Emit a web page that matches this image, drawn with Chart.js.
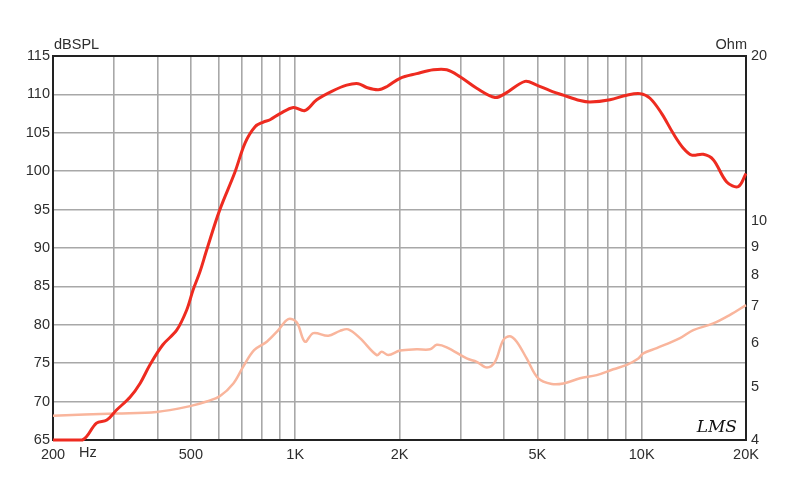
<!DOCTYPE html>
<html>
<head>
<meta charset="utf-8">
<script src="https://cdn.jsdelivr.net/npm/chart.js@4.4.0/dist/chart.umd.min.js"></script>
<style>
html, body { margin: 0; padding: 0; background: #fff; }
</style>
</head>
<body>
<canvas id="chart" width="800" height="484"></canvas>
<script>
// frequency grid and labels
var xGridFreq = [200, 300, 400, 500, 600, 700, 800, 900, 1000, 2000, 3000, 4000, 5000, 6000, 7000, 8000, 9000, 10000, 20000];
var xTickFreq = [200, 500, 1000, 2000, 5000, 10000, 20000];
var xTickText = ['200', '500', '1K', '2K', '5K', '10K', '20K'];
var ohmTicks = [4, 5, 6, 7, 8, 9, 10, 20];

// SPL response (dB)
var splFreq = [200, 243, 267, 286, 305, 334, 357, 381, 415, 455, 486, 507, 531, 555, 605, 669, 717, 766, 809, 846, 904, 988, 1067, 1154, 1275, 1408, 1521, 1608, 1737, 1837, 2006, 2242, 2504, 2737, 2990, 3341, 3772, 4031, 4605, 4977, 5438, 5940, 6638, 7092, 8102, 9052, 9890, 10568, 11424, 12336, 13186, 13942, 15060, 16090, 17596, 18998, 20000];
var splDb = [65, 65, 67.2, 67.6, 68.9, 70.6, 72.4, 74.8, 77.4, 79.3, 81.9, 84.5, 86.9, 89.7, 94.9, 99.8, 103.7, 105.8, 106.4, 106.7, 107.5, 108.3, 107.9, 109.3, 110.4, 111.2, 111.4, 110.9, 110.6, 111.0, 112.1, 112.7, 113.2, 113.2, 112.3, 110.8, 109.6, 110.1, 111.7, 111.2, 110.5, 109.9, 109.2, 109.0, 109.3, 109.9, 110.1, 109.5, 107.5, 104.9, 103.0, 102.1, 102.2, 101.5, 98.6, 98.0, 99.7];

// impedance (Ohm)
var impFreq = [200, 305, 398, 497, 555, 607, 663, 708, 761, 828, 894, 955, 1010, 1067, 1128, 1246, 1347, 1423, 1538, 1719, 1777, 1857, 2006, 2242, 2450, 2562, 2737, 3126, 3341, 3576, 3772, 3986, 4168, 4358, 4656, 5030, 5500, 5940, 6638, 7416, 8280, 9052, 9778, 10106, 11050, 12898, 14088, 16090, 17986, 20000];
var impOhm = [4.43, 4.47, 4.50, 4.61, 4.70, 4.81, 5.07, 5.44, 5.83, 6.04, 6.34, 6.64, 6.55, 6.04, 6.26, 6.19, 6.32, 6.36, 6.13, 5.71, 5.79, 5.71, 5.82, 5.85, 5.85, 5.96, 5.90, 5.63, 5.55, 5.42, 5.55, 6.08, 6.18, 6.04, 5.63, 5.18, 5.06, 5.07, 5.18, 5.25, 5.38, 5.48, 5.63, 5.75, 5.88, 6.13, 6.34, 6.52, 6.76, 7.04];

function pairs(xs, ys) {
    var out = [];
    for (var i = 0; i < xs.length; i++) out.push({x: xs[i], y: ys[i]});
    return out;
}

var tickFont = {family: '"Liberation Sans", Arial, sans-serif', size: 14.5};
var textColor = '#2e2e2e';

var frame = {
    id: 'frame',
    beforeDatasetsDraw: function(chart) {
        var ctx = chart.ctx, a = chart.chartArea;
        ctx.save();
        ctx.strokeStyle = '#222';
        ctx.lineWidth = 2;
        ctx.strokeRect(a.left, a.top, a.right - a.left, a.bottom - a.top);
        ctx.restore();
    },
    afterDraw: function(chart) {
        var ctx = chart.ctx, a = chart.chartArea;
        ctx.save();
        ctx.fillStyle = textColor;
        ctx.font = '14.5px "Liberation Sans", Arial, sans-serif';
        ctx.textAlign = 'left';
        ctx.fillText('dBSPL', a.left + 1, a.top - 7);
        ctx.fillText('Hz', a.left + 26, a.bottom + 17);
        ctx.textAlign = 'right';
        ctx.fillText('Ohm', a.right + 1, a.top - 7);
        ctx.fillStyle = '#111';
        ctx.font = 'italic 17px "DejaVu Serif", serif';
        ctx.fillText('LMS', a.right - 9, a.bottom - 8);
        ctx.restore();
    }
};

new Chart(document.getElementById('chart'), {
    type: 'line',
    data: {
        datasets: [{
            label: 'SPL',
            data: pairs(splFreq, splDb),
            yAxisID: 'y',
            borderColor: '#ee2b20',
            borderWidth: 3,
            pointRadius: 0,
            tension: 0.35,
            clip: 4
        }, {
            label: 'Impedance',
            data: pairs(impFreq, impOhm),
            yAxisID: 'y2',
            borderColor: '#f9b59c',
            borderWidth: 2.5,
            pointRadius: 0,
            tension: 0.35,
            clip: 4
        }]
    },
    options: {
        responsive: false,
        animation: false,
        events: [],
        layout: {padding: {top: 56, left: 0, right: 0, bottom: 0}},
        plugins: {legend: {display: false}, tooltip: {enabled: false}},
        scales: {
            x: {
                type: 'logarithmic',
                min: 200,
                max: 20000,
                afterBuildTicks: function(scale) {
                    scale.ticks = xGridFreq.map(function(v) { return {value: v}; });
                },
                afterFit: function(scale) { scale.height = 44; },
                grid: {color: '#a8a8a8', lineWidth: 1.6, drawTicks: false},
                border: {display: false},
                ticks: {
                    autoSkip: false,
                    maxRotation: 0,
                    padding: 6,
                    color: textColor,
                    font: tickFont,
                    callback: function(value) {
                        var i = xTickFreq.indexOf(value);
                        return i >= 0 ? xTickText[i] : '';
                    }
                }
            },
            y: {
                type: 'linear',
                position: 'left',
                min: 65,
                max: 115,
                afterFit: function(scale) { scale.width = 53; },
                grid: {color: '#a8a8a8', lineWidth: 1.6, drawTicks: false},
                border: {display: false},
                ticks: {stepSize: 5, padding: 3, color: textColor, font: tickFont}
            },
            y2: {
                type: 'logarithmic',
                position: 'right',
                min: 4,
                max: 20,
                afterBuildTicks: function(scale) {
                    scale.ticks = ohmTicks.map(function(v) { return {value: v}; });
                },
                afterFit: function(scale) { scale.width = 54; },
                grid: {display: false, drawTicks: false},
                border: {display: false},
                ticks: {
                    padding: 5,
                    color: textColor,
                    font: tickFont,
                    callback: function(value) { return String(value); }
                }
            }
        }
    },
    plugins: [frame]
});
</script>
</body>
</html>
